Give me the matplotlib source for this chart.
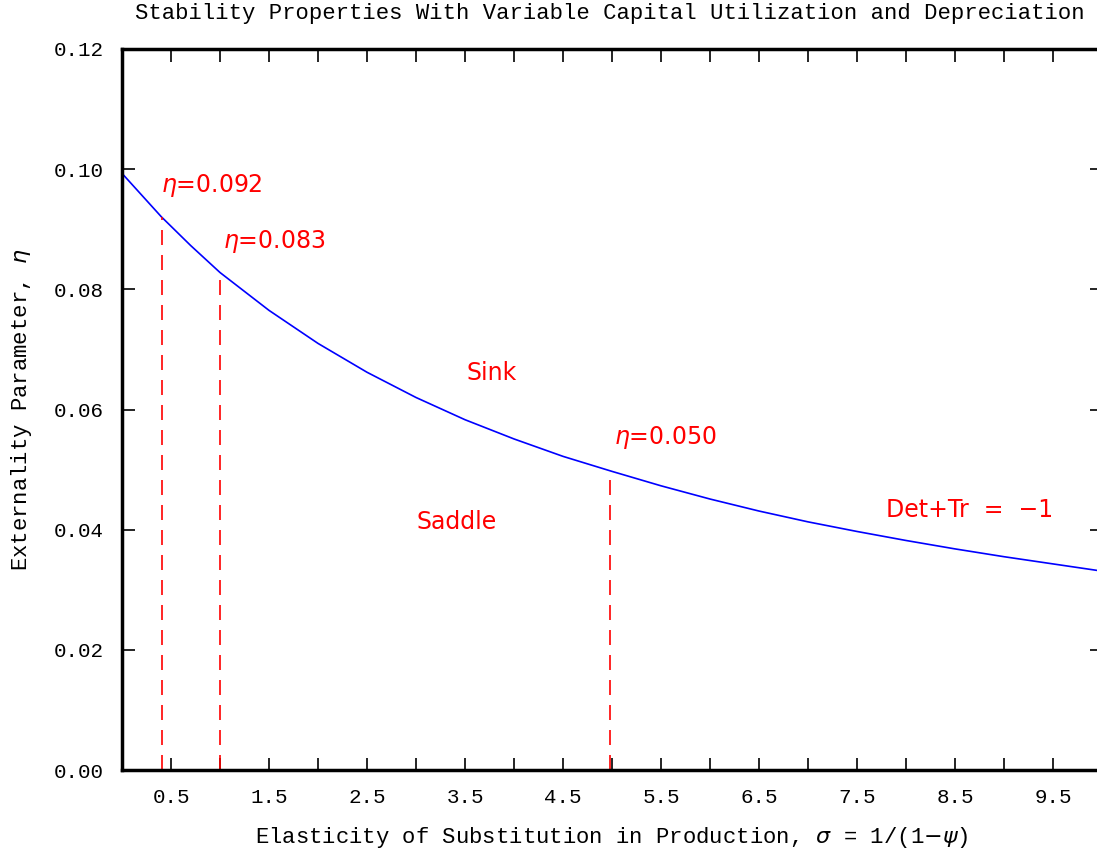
import numpy as np
import matplotlib
matplotlib.use("Agg")
import matplotlib.pyplot as plt

# boundary Det+Tr = -1
sigma = [0.0, 0.2, 0.4, 0.7, 1.0, 1.5, 2.0, 2.5, 3.0, 3.5, 4.0, 4.5, 5.0,
         5.5, 6.0, 6.5, 7.0, 7.5, 8.0, 8.5, 9.0, 9.5, 10.0]
eta = [0.0993, 0.0957, 0.0921, 0.0873, 0.0828, 0.0765, 0.0710, 0.0662, 0.0620, 0.0583, 0.0551,
       0.0522, 0.0497, 0.0473, 0.0451, 0.0431, 0.0413, 0.0397, 0.0382, 0.0368, 0.0355,
       0.0343, 0.0331]

# marked points
mark_sigma = [0.41, 1.0, 4.98]
mark_eta = [0.092, 0.083, 0.050]
mark_labels = [r"$\eta$=0.092", r"$\eta$=0.083", r"$\eta$=0.050"]

xtick_vals = np.arange(0.5, 10.0, 0.5)
xtick_labels = ["%.1f" % v if (v * 2) % 2 == 1 else "" for v in xtick_vals]
ytick_vals = [0.0, 0.02, 0.04, 0.06, 0.08, 0.10, 0.12]

mono = "Liberation Mono"
W, H = 1097, 856

fig = plt.figure(figsize=(W / 100, H / 100), dpi=100)
ax = fig.add_axes([122 / W, 1 - 770 / H, 980 / W, 721 / H])

ax.plot(sigma, eta, color="blue", lw=1.2)
for s, e in zip(mark_sigma, mark_eta):
    ax.plot([s, s], [0, e], color="red", lw=1.2, dashes=(9, 6))

red = dict(color="red", fontsize=17, family="DejaVu Sans")
ax.text(0.4, 0.0972, mark_labels[0], va="center", **red)
ax.text(1.03, 0.0880, mark_labels[1], va="center", **red)
ax.text(5.02, 0.0553, mark_labels[2], va="center", **red)
ax.text(3.52, 0.0660, "Sink", va="center", **red)
ax.text(3.01, 0.0412, "Saddle", va="center", **red)
ax.text(7.8, 0.0433, "Det+Tr  =  −1", va="center", **red)

ax.set_xlim(0, 10)
ax.set_ylim(0, 0.12)
ax.set_xticks(xtick_vals)
ax.set_xticklabels(xtick_labels)
ax.set_yticks(ytick_vals)
ax.set_yticklabels(["%.2f" % v for v in ytick_vals])
ax.tick_params(direction="in", length=9, width=1.2, pad=13,
               top=True, right=True, labelsize=15)
for lab in ax.get_xticklabels() + ax.get_yticklabels():
    lab.set_family(mono)
for sp in ax.spines.values():
    sp.set_linewidth(2.5)

ax.set_xlabel(r"Elasticity of Substitution in Production, $\sigma$ = 1/(1$-\psi$)",
              family=mono, fontsize=16, labelpad=13)
ax.set_ylabel(r"Externality Parameter, $\eta$", family=mono, fontsize=16, labelpad=14)
fig.text(610 / W, 1 - 14 / H,
         "Stability Properties With Variable Capital Utilization and Depreciation",
         ha="center", va="center", family=mono, fontsize=16)

fig.savefig("out.png", dpi=100)
